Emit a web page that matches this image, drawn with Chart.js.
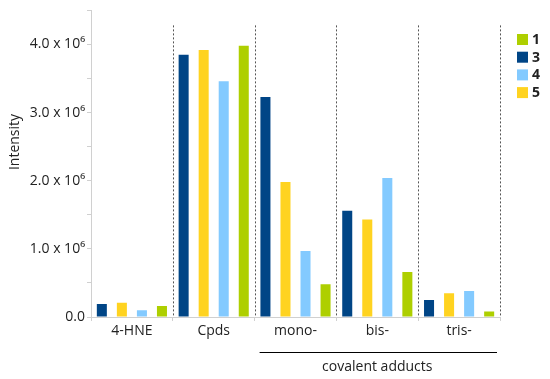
<!DOCTYPE html>
<html>
<head>
<meta charset="utf-8">
<script src="https://cdn.jsdelivr.net/npm/chart.js@4"></script>
<style>
  html, body { margin: 0; padding: 0; background: #fff; }
  #wrap { width: 550px; height: 379px; }
</style>
</head>
<body>
<div id="wrap"><canvas id="chart"></canvas></div>
<script>
const categories = ['4-HNE', 'Cpds', 'mono-', 'bis-', 'tris-'];
const cpd3 = [190000, 3850000, 3230000, 1560000, 250000];
const cpd5 = [210000, 3920000, 1980000, 1430000, 350000];
const cpd4 = [100000, 3460000, 970000, 2040000, 380000];
const cpd1 = [160000, 3980000, 480000, 660000, 80000];
const legendOrder = ['1', '3', '4', '5'];
const groupLabel = 'covalent adducts';
const axisTitle = 'Intensity';

const colors = { '1': '#aecf00', '3': '#004586', '4': '#83caff', '5': '#ffd320' };
const font = '"Open Sans", sans-serif';

const extras = {
    id: 'extras',
    afterDraw(chart) {
        const ctx = chart.ctx;
        const x = chart.scales.x;
        const y = chart.scales.y;
        const step = x.width / categories.length;
        ctx.save();

        // dotted separators
        ctx.strokeStyle = '#555';
        ctx.lineWidth = 1;
        ctx.setLineDash([2, 2]);
        const top = y.getPixelForValue(4280000);
        for (let i = 1; i <= categories.length; i++) {
            const px = Math.round(x.left + i * step) + 0.5;
            ctx.beginPath();
            ctx.moveTo(px, top);
            ctx.lineTo(px, y.bottom);
            ctx.stroke();
        }
        ctx.setLineDash([]);

        // bracket under the adduct groups
        ctx.strokeStyle = '#000';
        ctx.beginPath();
        ctx.moveTo(x.left + 2 * step + 5, 352.5);
        ctx.lineTo(x.right - 3, 352.5);
        ctx.stroke();
        ctx.fillStyle = '#222';
        ctx.font = '14px ' + font;
        ctx.textAlign = 'center';
        ctx.textBaseline = 'middle';
        ctx.fillText(groupLabel, x.left + 3.5 * step, 367);

        // y axis title
        ctx.save();
        ctx.translate(15, 142);
        ctx.rotate(-Math.PI / 2);
        ctx.fillText(axisTitle, 0, 0);
        ctx.restore();

        // legend
        ctx.font = 'bold 14px ' + font;
        ctx.textAlign = 'left';
        legendOrder.forEach((k, i) => {
            const ty = 34 + i * 17.7;
            ctx.fillStyle = colors[k];
            ctx.fillRect(517, ty, 11, 11);
            ctx.fillStyle = '#222';
            ctx.fillText(k, 532, ty + 6);
        });
        ctx.restore();
    }
};

const makeSet = (label, data) => ({
    label: label,
    data: data,
    backgroundColor: colors[label],
    categoryPercentage: 0.98,
    barPercentage: 0.5
});

new Chart(document.getElementById('chart'), {
    type: 'bar',
    data: {
        labels: categories,
        datasets: [
            makeSet('3', cpd3),
            makeSet('5', cpd5),
            makeSet('4', cpd4),
            makeSet('1', cpd1)
        ]
    },
    options: {
        responsive: true,
        maintainAspectRatio: false,
        animation: false,
        layout: { padding: { top: 10, right: 50, left: 0, bottom: 0 } },
        plugins: {
            legend: { display: false },
            tooltip: { enabled: false }
        },
        scales: {
            x: {
                grid: { offset: true, drawOnChartArea: false, tickLength: 4, color: '#d0d0d0' },
                border: { color: '#d0d0d0' },
                ticks: { color: '#222', font: { family: font, size: 14 }, padding: 2 },
                afterFit(scale) { scale.height = 62; }
            },
            y: {
                min: 0,
                max: 4500000,
                grid: { drawOnChartArea: false, tickLength: 4, color: '#d0d0d0' },
                border: { color: '#d0d0d0' },
                ticks: {
                    stepSize: 500000,
                    color: '#222',
                    padding: 2,
                    font: { family: font, size: 14 },
                    callback: v => {
                        if (v === 0) return '0.0';
                        if (v % 1000000 !== 0) return '';
                        return (v / 1000000).toFixed(1) + ' x 10\u2076';
                    }
                },
                afterFit(scale) { scale.width = 91; }
            }
        }
    },
    plugins: [extras]
});
</script>
</body>
</html>
